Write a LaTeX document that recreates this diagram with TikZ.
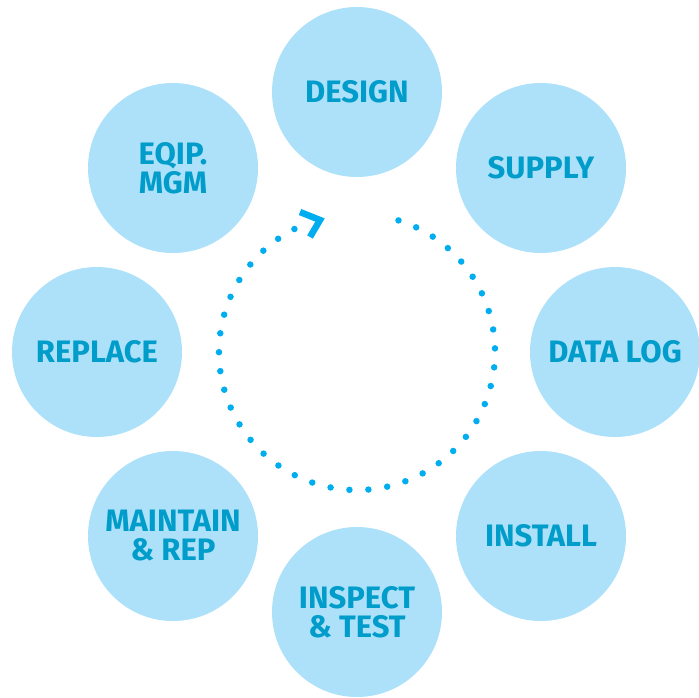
\documentclass[tikz,border=0pt]{standalone}
\usepackage{fontspec}
\setmainfont{Fira Sans}
\definecolor{cfill}{HTML}{ADE1FA}
\definecolor{ctext}{HTML}{009CCA}
\definecolor{cdot}{HTML}{00AEEF}
\begin{document}
\begin{tikzpicture}[x=1pt,y=-1pt,
  stage/.style={circle, fill=cfill, minimum size=170pt, inner sep=0pt, text=ctext,
    font=\bfseries\fontsize{31}{29}\selectfont, align=center},
  dotline/.style={draw=cdot, line width=6.5pt, line cap=round, dash pattern=on 0pt off 19pt},
  chev/.style={draw=cdot, line width=6.5pt, miter limit=10}]
\useasboundingbox (0,0) rectangle (699,697);
\node[stage] (design)   at (357,92)  {DESIGN};
\node[stage] (supply)   at (541,168) {SUPPLY};
\node[stage] (datalog)  at (615,352) {DATA LOG};
\node[stage] (install)  at (541,536) {INSTALL};
\node[stage] (inspect)  at (357,612) {INSPECT\\\& TEST};
\node[stage] (maintain) at (173,536) {MAINTAIN\\\& REP};
\node[stage] (replace)  at (97,352)  {REPLACE};
\node[stage] (eqip)     at (173,168) {EQIP.\\MGM};
\coordinate (hub) at (357,352);
\draw[dotline] (hub) ++(-72.5:138) arc[start angle=-72.5, end angle=245, radius=138];
\coordinate (ca) at (300,212);
\coordinate (cb) at (320,220);
\coordinate (cc) at (310,237);
\draw[chev] (ca) -- (cb) -- (cc);
\end{tikzpicture}
\end{document}
